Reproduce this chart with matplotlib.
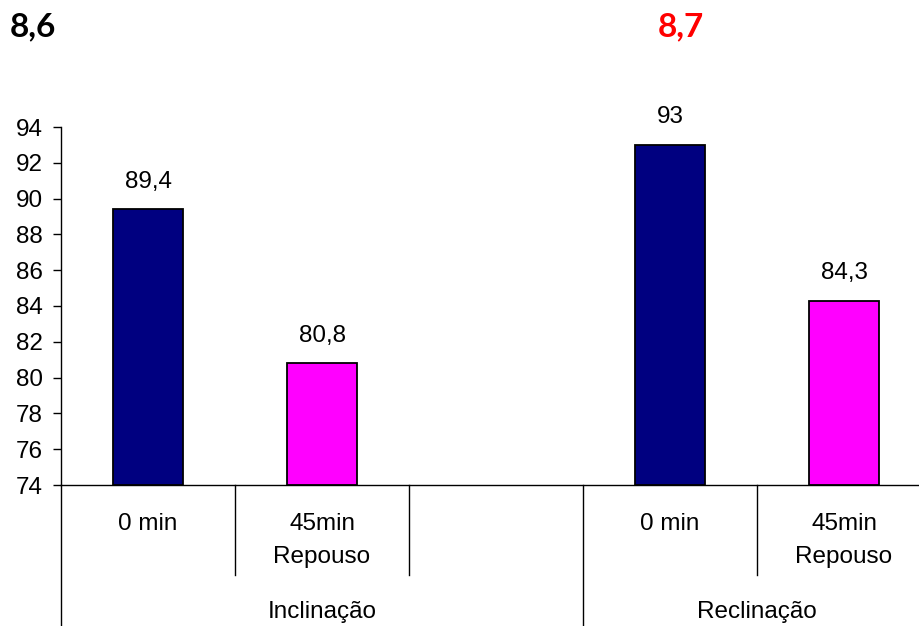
import matplotlib
matplotlib.use("Agg")
import matplotlib.pyplot as plt
from matplotlib.lines import Line2D

# Data
groups = ["Inclinação", "Reclinação"]
group_spans = [(0, 3), (3, 5)]          # slot ranges (third slot of first group is empty)
categories = ["0 min", "45min\nRepouso", "", "0 min", "45min\nRepouso"]
values = [89.4, 80.8, None, 93.0, 84.3]
value_labels = ["89,4", "80,8", "", "93", "84,3"]
bar_colors = ["#000080", "#FF00FF", None, "#000080", "#FF00FF"]
yticks = list(range(74, 95, 2))
header_left = "8,6"
header_right = "8,7"

plt.rcParams['font.family'] = ['Liberation Sans', 'DejaVu Sans']
FS = 17.5

fig = plt.figure(figsize=(9.19, 6.26), dpi=100)
ax = fig.add_axes([61 / 919, (626 - 485) / 626, 870 / 919, 358 / 626])

for i, (v, c, lab) in enumerate(zip(values, bar_colors, value_labels)):
    if v is None:
        continue
    ax.bar(i + 0.5, v - 74, bottom=74, width=0.405, color=c, edgecolor="black", linewidth=1.3, zorder=3)
    ax.annotate(lab, (i + 0.5, v), xytext=(0, 20), textcoords="offset points",
                ha="center", va="center", fontsize=FS)

ax.set_xlim(0, 5)
ax.set_ylim(74, 94)
ax.set_yticks(yticks)
ax.set_yticklabels([str(t) for t in yticks], fontsize=FS)
ax.tick_params(axis='y', direction='out', length=6, width=1, pad=7)
ax.set_xticks([])
for s in ["top", "right"]:
    ax.spines[s].set_visible(False)
ax.spines["left"].set_linewidth(1)
ax.spines["bottom"].set_linewidth(1)

trans = ax.get_xaxis_transform()
# short separators between categories
for x in [1, 2, 4]:
    ax.add_line(Line2D([x, x], [0, -90 / 358], transform=trans, color="black", lw=1, clip_on=False))
# long separators at group boundaries
for x in [0, 3, 5]:
    ax.add_line(Line2D([x, x], [0, -150 / 358], transform=trans, color="black", lw=1, clip_on=False))

# category labels
for i, cat in enumerate(categories):
    if not cat:
        continue
    ax.text(i + 0.5, -28 / 358, cat, transform=trans, ha="center", va="top",
            fontsize=FS, linespacing=1.62)

# group labels
for g, (a, b) in zip(groups, group_spans):
    ax.text((a + b) / 2, -127 / 358, g, transform=trans, ha="center", va="center", fontsize=FS)

fig.text(10 / 919, 1 - 27 / 626, header_left, fontsize=24, fontweight="bold",
         family=["Lato", "DejaVu Sans"], ha="left", va="center", color="black")
fig.text(658 / 919, 1 - 27 / 626, header_right, fontsize=24, fontweight="bold",
         family=["Lato", "DejaVu Sans"], ha="left", va="center", color="red")

fig.savefig("out.png", dpi=100)
